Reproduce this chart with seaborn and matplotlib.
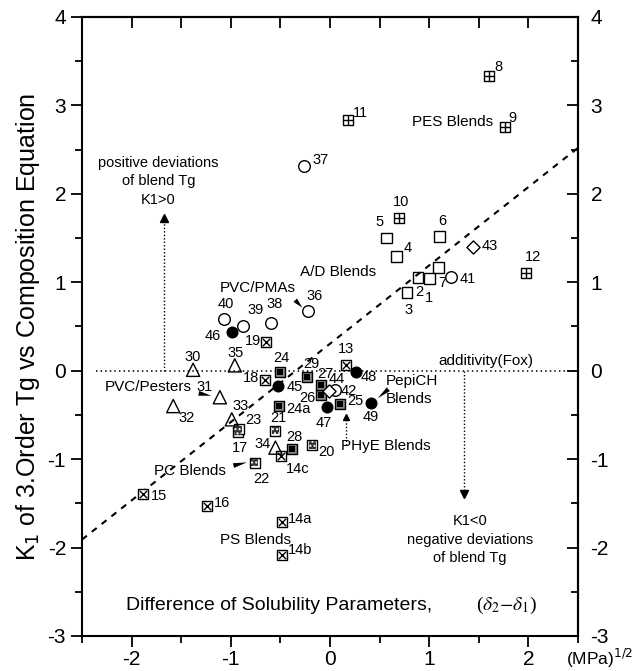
import matplotlib
matplotlib.use('Agg')
import matplotlib.pyplot as plt
import seaborn as sns
import pandas as pd

# data (x = delta2 - delta1, y = K1)
ad_labels = ['1', '2', '3', '4', '5', '6', '7']
ad_x = [1.00, 0.886, 0.776, 0.67, 0.57, 1.10, 1.09]
ad_y = [1.04, 1.05, 0.88, 1.29, 1.50, 1.52, 1.17]

pes_labels = ['8', '9', '10', '11', '12']
pes_x = [1.60, 1.76, 0.70, 0.18, 1.98]
pes_y = [3.33, 2.76, 1.73, 2.84, 1.10]

ps_labels = ['13', '14a', '14b', '14c', '15', '16', '18', '19']
ps_x = [0.16, -0.48, -0.48, -0.49, -1.88, -1.24, -0.66, -0.65]
ps_y = [0.06, -1.71, -2.08, -0.97, -1.39, -1.53, -0.11, 0.32]

pc_labels = ['17', '20', '21', '22', '23']
pc_x = [-0.93, -0.18, -0.55, -0.76, -0.92]
pc_y = [-0.69, -0.84, -0.68, -1.04, -0.66]

phye_labels = ['24', '24a', '25', '26', '27', '28', '29']
phye_x = [-0.50, -0.51, 0.10, -0.09, -0.09, -0.38, -0.23]
phye_y = [-0.01, -0.40, -0.38, -0.27, -0.16, -0.88, -0.07]

pester_labels = ['30', '31', '32', '33', '34', '35']
pester_x = [-1.38, -1.11, -1.58, -0.99, -0.55, -0.96]
pester_y = [0.01, -0.30, -0.40, -0.55, -0.87, 0.06]

pma_labels = ['36', '37', '38', '39', '40', '41', '42']
pma_x = [-0.22, -0.26, -0.59, -0.88, -1.07, 1.22, 0.05]
pma_y = [0.67, 2.31, 0.54, 0.50, 0.59, 1.06, -0.22]

dia_labels = ['43', '44']
dia_x = [1.44, -0.01]
dia_y = [1.40, -0.23]

pepi_labels = ['45', '46', '47', '48', '49']
pepi_x = [-0.52, -0.99, -0.03, 0.26, 0.41]
pepi_y = [-0.17, 0.44, -0.41, -0.01, -0.36]

# dashed correlation line
fit_slope = 0.886
fit_icpt = 0.305

# label offsets in points
offsets = {
    '1': (0, -14), '2': (1, -10), '3': (1, -12.5), '4': (8, 6), '5': (-5, 11.5),
    '6': (2, 11), '7': (3, -11.5), '8': (7, 7), '9': (6, 6.5), '10': (1.5, 11),
    '11': (9, 4.5), '12': (4.5, 11.5), '13': (0, 11.5), '14a': (12.5, 2),
    '14b': (12.5, 3), '14c': (12, -9), '15': (11, -2), '16': (11, 2),
    '17': (1.5, -12), '18': (-10, 2), '19': (-9, 0.7), '20': (10.5, -5),
    '21': (2.2, 9.4), '22': (5, -12), '23': (10.5, 6.5), '24': (0.7, 10),
    '24a': (13.5, -2.2), '25': (11, 2.2), '26': (-10, -2.5), '27': (3, 7.5),
    '28': (1.4, 8), '29': (3, 9.4), '30': (0, 9.4), '31': (-10.8, 7.2),
    '32': (9.4, -8.6), '33': (6.5, 9.4), '34': (-9, 2.9), '35': (0.7, 8.6),
    '36': (4.3, 10.8), '37': (12, 4.3), '38': (2, 13.5), '39': (9.4, 12.2),
    '40': (1.4, 10.8), '41': (12, -1.4), '42': (10, -0.7), '43': (12, 0.7),
    '44': (5.8, 8.6), '45': (12, -0.7), '46': (-14, -2.9), '47': (-2.2, -11.5),
    '48': (9, -3.6), '49': (0, -10.5),
}

plt.rcParams['font.family'] = ['Liberation Sans', 'DejaVu Sans']
plt.rcParams['axes.unicode_minus'] = False
fig = plt.figure(figsize=(6.37, 6.71), dpi=100)
ax = fig.add_axes([0.1287, 0.0522, 0.7787, 0.9225])


def frame(xs, ys):
    return pd.DataFrame({'x': xs, 'y': ys})


def open_pts(xs, ys, marker, s, lw=1.0, fc='none'):
    sns.scatterplot(data=frame(xs, ys), x='x', y='y', marker=marker, s=s,
                    facecolor=fc, edgecolor='black', linewidth=lw, ax=ax, zorder=3)


def line_pts(xs, ys, marker, s, lw=1.0):
    sns.scatterplot(data=frame(xs, ys), x='x', y='y', marker=marker, s=s,
                    color='black', linewidth=lw, ax=ax, zorder=4)


# A/D blends: open squares
open_pts(ad_x, ad_y, 's', 60)
# PES blends: square with plus
open_pts(pes_x, pes_y, 's', 42, fc='white')
line_pts(pes_x, pes_y, '+', 42)
# PS blends: square with cross
open_pts(ps_x, ps_y, 's', 52, fc='white')
line_pts(ps_x, ps_y, 'x', 28)
# PC blends: square with dotted dark center
open_pts(pc_x, pc_y, 's', 60, fc='white')
sns.scatterplot(data=frame(pc_x, pc_y), x='x', y='y', marker='s', s=26,
                facecolor='#333333', edgecolor='white', hatch='....',
                linewidth=0, ax=ax, zorder=4)
# PHyE blends: grey-rimmed black squares
open_pts(phye_x, phye_y, 's', 62, fc='#888888')
sns.scatterplot(data=frame(phye_x, phye_y), x='x', y='y', marker='s', s=24,
                color='black', linewidth=0, ax=ax, zorder=4)
# PVC/Pesters: open triangles
open_pts(pester_x, pester_y, '^', 90)
# PVC/PMAs: open circles
open_pts(pma_x, pma_y, 'o', 70, fc='white')
# diamonds
open_pts(dia_x, dia_y, 'D', 45, fc='white')
# PepiCH: filled circles
sns.scatterplot(data=frame(pepi_x, pepi_y), x='x', y='y', marker='o', s=75,
                color='black', linewidth=0, ax=ax, zorder=3)

for labs, xs, ys in [(ad_labels, ad_x, ad_y), (pes_labels, pes_x, pes_y),
                     (ps_labels, ps_x, ps_y), (pc_labels, pc_x, pc_y),
                     (phye_labels, phye_x, phye_y), (pester_labels, pester_x, pester_y),
                     (pma_labels, pma_x, pma_y), (dia_labels, dia_x, dia_y),
                     (pepi_labels, pepi_x, pepi_y)]:
    for lab, xv, yv in zip(labs, xs, ys):
        ax.annotate(lab, (xv, yv), xytext=offsets[lab], textcoords='offset points',
                    ha='center', va='center', fontsize=10.5, zorder=5)

# reference lines
ax.plot([-2.5, 2.5], [fit_icpt - 2.5 * fit_slope, fit_icpt + 2.5 * fit_slope],
        color='black', ls=(0, (3, 3)), lw=1.5, zorder=2)
ax.plot([-2.36, 2.5], [0, 0], color='black', ls=(0, (1, 2)), lw=1.1, zorder=2)

# dotted arrows
ax.plot([-1.67, -1.67], [0, 1.68], color='black', ls=(0, (1, 1.5)), lw=1.0)
ax.plot([-1.67], [1.73], marker='^', color='black', ms=6)
ax.plot([1.35, 1.35], [0, -1.35], color='black', ls=(0, (1, 1.5)), lw=1.0)
ax.plot([1.35], [-1.40], marker='v', color='black', ms=6)
ax.plot([0.16, 0.16], [-0.84, -0.55], color='black', ls=(0, (1, 1.5)), lw=1.0)
ax.plot([0.16], [-0.52], marker='^', color='black', ms=5)

# wedge pointers
wedge = dict(arrowstyle='wedge,tail_width=0.35', color='black', lw=0)
ax.annotate('', xy=(-0.26, 0.69), xytext=(-0.37, 0.82), arrowprops=wedge)
ax.annotate('', xy=(-1.17, -0.29), xytext=(-1.35, -0.25), arrowprops=wedge)
ax.annotate('', xy=(-0.81, -1.03), xytext=(-1.00, -1.08), arrowprops=wedge)
ax.annotate('', xy=(0.46, -0.33), xytext=(0.61, -0.19), arrowprops=wedge)

# group and region texts
tkw = dict(fontsize=11, zorder=5)
ax.text(1.64, 2.81, 'PES Blends', ha='right', va='center', **tkw)
ax.text(0.08, 1.12, 'A/D Blends', ha='center', va='center', **tkw)
ax.text(-0.73, 0.93, 'PVC/PMAs', ha='center', va='center', **tkw)
ax.text(1.57, 0.11, 'additivity(Fox)', ha='center', va='center', **tkw)
ax.text(0.56, -0.22, 'PepiCH\nBlends', ha='left', va='center', linespacing=1.3, **tkw)
ax.text(-2.27, -0.19, 'PVC/Pesters', ha='left', va='center', **tkw)
ax.text(0.11, -0.85, 'PHyE Blends', ha='left', va='center', **tkw)
ax.text(-1.41, -1.14, 'PC Blends', ha='center', va='center', **tkw)
ax.text(-0.75, -1.91, 'PS Blends', ha='center', va='center', **tkw)
ax.text(-1.73, 2.14, 'positive deviations\nof blend Tg\nK1>0', ha='center',
        va='center', linespacing=1.4, fontsize=10.5)
ax.text(1.41, -1.91, 'K1<0\nnegative deviations\nof blend Tg', ha='center',
        va='center', linespacing=1.4, fontsize=10.5)
ax.text(-2.06, -2.65, 'Difference of Solubility Parameters,', ha='left',
        va='center', fontsize=14)
ax.text(1.47, -2.65, r'($\delta_2$$-$$\delta_1$)', ha='left', va='center',
        fontsize=14, family='Liberation Serif', math_fontfamily='stix')

ax.set_xlim(-2.5, 2.5)
ax.set_ylim(-3, 4)
ax.set_xticks([-2, -1, 0, 1, 2])
ax.set_xticks([-2.5, -1.5, -0.5, 0.5, 1.5, 2.5], minor=True)
ax.set_yticks(range(-3, 5))
ax.set_yticks([-2.5, -1.5, -0.5, 0.5, 1.5, 2.5, 3.5], minor=True)
ax.tick_params(axis='both', which='major', labelsize=15, width=1.3, length=8)
ax.tick_params(axis='both', which='minor', width=1.3, length=5)
ax.tick_params(axis='x', which='both', direction='out', top=False, pad=2)
ax.tick_params(axis='y', which='both', direction='out', left=True, right=False)
sec_x = ax.secondary_xaxis('top')
sec_x.set_xticks([-2, -1, 0, 1, 2])
sec_x.set_xticks([-2.5, -1.5, -0.5, 0.5, 1.5, 2.5], minor=True)
sec_x.tick_params(which='major', direction='in', length=8, width=1.3, labeltop=False)
sec_x.tick_params(which='minor', direction='in', length=8, width=1.3)
sec_y = ax.secondary_yaxis('right')
sec_y.set_yticks(range(-3, 5))
sec_y.set_yticks([-2.5, -1.5, -0.5, 0.5, 1.5, 2.5, 3.5], minor=True)
sec_y.tick_params(which='major', direction='in', length=8, width=1.3,
                  labelsize=15, pad=9)
sec_y.tick_params(which='minor', direction='in', length=5, width=1.3)
for sp in ax.spines.values():
    sp.set_linewidth(1.5)
sec_x.spines['top'].set_linewidth(1.5)
sec_y.spines['right'].set_linewidth(1.5)

ax.set_xlabel('')
ax.set_ylabel('K$_1$ of 3.Order Tg vs Composition Equation', fontsize=18, labelpad=4)
fig.text(0.995, 0.018, '(MPa)$^{1/2}$', fontsize=12.5, ha='right', va='center')

fig.savefig('out.png', dpi=100)
